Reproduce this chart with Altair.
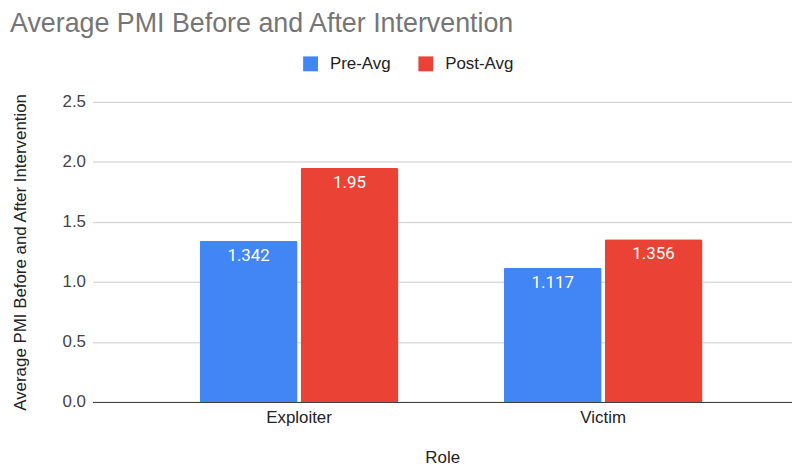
import altair as alt
import pandas as pd

roles = ["Exploiter", "Victim"]
series = ["Pre-Avg", "Post-Avg"]
pre_avg = [1.342, 1.117]
post_avg = [1.95, 1.356]
colors = ["#4285F4", "#EA4335"]

rows = []
for i, r in enumerate(roles):
    rows.append({"Role": r, "Series": "Pre-Avg", "Value": pre_avg[i], "Label": str(pre_avg[i])})
    rows.append({"Role": r, "Series": "Post-Avg", "Value": post_avg[i], "Label": str(post_avg[i])})
df = pd.DataFrame(rows)

FONT = "Liberation Sans"
FS = 17

x = alt.X("Role:N", sort=roles, title="Role",
          scale=alt.Scale(paddingInner=0.3464, paddingOuter=0.3235, align=0.545),
          axis=alt.Axis(labelAngle=0, ticks=False, labelPadding=8, titlePadding=24,
                        domainColor="#333333", labelColor="#222222", titleColor="#222222",
                        labelFontSize=FS, titleFontSize=FS, titleFontWeight="normal",
                        labelFont=FONT, titleFont=FONT, grid=False))
xo = alt.XOffset("Series:N", sort=series, scale=alt.Scale(domain=series, paddingInner=0.03))
y = alt.Y("Value:Q", title="Average PMI Before and After Intervention",
          scale=alt.Scale(domain=[0, 2.5], nice=False),
          axis=alt.Axis(values=[0, 0.5, 1.0, 1.5, 2.0, 2.5], format=".1f", ticks=False,
                        domain=False, labelPadding=7, titlePadding=33,
                        gridColor="#cccccc", labelColor="#444444", titleColor="#222222",
                        labelFontSize=FS, titleFontSize=FS, titleFontWeight="normal",
                        labelFont=FONT, titleFont=FONT))

bars = alt.Chart(df).mark_bar(cornerRadiusTopLeft=2, cornerRadiusTopRight=2).encode(
    x=x, xOffset=xo, y=y,
    color=alt.Color("Series:N", sort=series,
                    scale=alt.Scale(domain=series, range=colors),
                    legend=alt.Legend(title=None, orient="none", direction="horizontal",
                                      legendX=211, legendY=-47,
                                      symbolType="square", symbolSize=225,
                                      symbolStrokeWidth=0, labelFontSize=FS,
                                      labelColor="#222222", labelFont=FONT,
                                      labelOffset=11, columnPadding=26)),
)

labels = alt.Chart(df).mark_text(baseline="top", dy=7, color="#ffffff", fontSize=17,
                                 font="Roboto").encode(
    x=alt.X("Role:N", sort=roles), xOffset=alt.XOffset("Series:N", sort=series), y="Value:Q",
    text="Label:N",
)

chart = alt.layer(bars, labels).properties(
    width=704, height=302,
    autosize=alt.AutoSizeParams(type="none"),
    padding={"left": 85, "top": 93, "right": 0, "bottom": 64},
    title=alt.TitleParams("Average PMI Before and After Intervention", anchor="start",
                          frame="group", fontSize=27, fontWeight="normal",
                          color="#757575", font=FONT, dx=-83, offset=17),
).configure_view(stroke=None)

chart.save("out.html", embed_options={"renderer": "svg", "actions": False})
